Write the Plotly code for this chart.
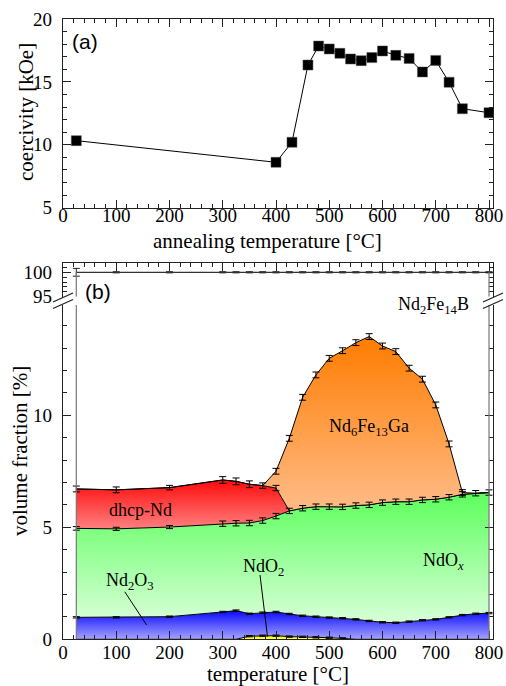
import plotly.graph_objects as go
import numpy as np

# ---------------- data: panel (a) ----------------
T_a = [25, 400, 430, 460, 480, 500, 520, 540, 560, 580, 600, 625, 650, 675, 700, 725, 750, 800]
coercivity = [10.33, 8.61, 10.20, 16.34, 17.85, 17.62, 17.27, 16.82, 16.69, 16.93,
              17.46, 17.11, 16.87, 15.79, 16.71, 14.97, 12.87, 12.55]

# ---------------- data: panel (b) (volume fractions, %) ----------------
T_b = [25, 100, 200, 300, 325, 350, 375, 400, 425, 450, 475, 500, 525, 550, 575,
       600, 625, 650, 675, 700, 725, 750, 775, 800]
NdO2 = [0, 0, 0, 0, 0, 0.14, 0.16, 0.16, 0.12, 0.11, 0.09, 0.07, 0.04, 0,
        0, 0, 0, 0, 0, 0, 0, 0, 0, 0]
Nd2O3 = [0.98, 0.98, 1.01, 1.22, 1.28, 1.00, 1.03, 1.06, 1.01, 0.94, 0.92, 0.90, 0.90, 0.89,
         0.82, 0.76, 0.74, 0.79, 0.85, 0.89, 0.98, 1.08, 1.14, 1.17]
NdOx = [3.97, 3.95, 4.00, 3.94, 3.90, 4.05, 4.11, 4.28, 4.60, 4.80, 4.91, 4.95, 4.97, 5.08,
        5.18, 5.34, 5.40, 5.35, 5.37, 5.36, 5.36, 5.39, 5.38, 5.38]
dhcpNd = [1.76, 1.74, 1.76, 1.95, 1.87, 1.73, 1.56, 1.25, 0, 0, 0, 0, 0, 0,
          0, 0, 0, 0, 0, 0, 0, 0, 0, 0]
Nd6Fe13Ga = [0, 0, 0, 0, 0, 0, 0, 0.75, 3.24, 4.95, 5.88, 6.62, 6.97, 7.27,
             7.51, 6.99, 6.70, 5.96, 5.39, 4.21, 2.38, 0.08, 0, 0]
Nd2Fe14B = [round(100 - a - b - c - d - e, 2) for a, b, c, d, e in zip(NdO2, Nd2O3, NdOx, dhcpNd, Nd6Fe13Ga)]

# error bars (absolute, %)
err_NdO2 = [None]*5 + [0.03]*8 + [None]*11
err_Nd2O3 = [0.03]*24
err_NdOx = [0.08, 0.07, 0.07] + [0.12]*21
err_dhcp = [0.13, 0.13, 0.10, 0.15, 0.15, 0.15, 0.12, 0.12] + [None]*16
err_Ga = [None]*7 + [0.13]*15 + [None]*2
err_total = [0.8] + [0.12]*23

# ---------------- geometry helpers (pixels -> paper) ----------------
W, H = 506, 686
def px(x):
    return x / W
def py(y):
    return 1 - y / H

XDOM = [px(63), px(493)]
XRANGE = [0, 807.5]
FONT_SERIF = "Liberation Serif"
FONT_SANS = "Liberation Sans"
AXC = "#222222"

fig = go.Figure()

# ---------- panel (a) ----------
fig.add_trace(go.Scatter(
    x=T_a, y=coercivity, mode="lines+markers",
    line=dict(color="black", width=1),
    marker=dict(symbol="square", size=10, color="black", line=dict(color="#555", width=0.5)),
    xaxis="x", yaxis="y", showlegend=False, hoverinfo="skip"))

# ---------- panel (b) stacked areas ----------
layers = [
    ("NdO2", NdO2, err_NdO2, ["#ffff50", "#ffff00"]),
    ("Nd2O3", Nd2O3, err_Nd2O3, ["#a4a4ff", "#0a0aff"]),
    ("NdOx", NdOx, err_NdOx, ["#d8ffd8", "#5cff5c"]),
    ("dhcp", dhcpNd, err_dhcp, ["#ff8080", "#ff0a0a"]),
    ("Ga", Nd6Fe13Ga, err_Ga, ["#ffbc88", "#ff7c00"]),
]

base = np.zeros(len(T_b))
fig.add_trace(go.Scatter(x=T_b, y=list(base), mode="lines", line=dict(width=0, color="black"),
                         xaxis="x2", yaxis="y2", showlegend=False, hoverinfo="skip"))
cum = base.copy()
err_traces = []
for name, vals, errs, cols in layers:
    lower = cum.copy()
    cum = cum + np.array(vals)
    mask = np.array(vals) > 0
    start = float(lower[mask].min())
    stop = float(cum[mask].max())
    fig.add_trace(go.Scatter(
        x=T_b, y=list(cum), mode="lines",
        line=dict(color="black", width=1),
        fill="tonexty", fillcolor=cols[1],
        fillgradient=dict(type="vertical", colorscale=[[0, cols[0]], [1, cols[1]]],
                          start=start, stop=stop),
        xaxis="x2", yaxis="y2", showlegend=False, hoverinfo="skip"))
    ex = [t for t, e in zip(T_b, errs) if e is not None]
    ey = [c for c, e in zip(cum, errs) if e is not None]
    ee = [e for e in errs if e is not None]
    err_traces.append(go.Scatter(
        x=ex, y=ey, mode="markers", marker=dict(size=1, color="rgba(0,0,0,0)"),
        error_y=dict(type="data", array=ee, symmetric=True, color="black", thickness=1, width=3.5),
        xaxis="x2", yaxis="y2", showlegend=False, hoverinfo="skip"))
for tr in err_traces:
    fig.add_trace(tr)

total = [round(c + r, 2) for c, r in zip(cum, Nd2Fe14B)]
fig.add_trace(go.Scatter(
    x=T_b, y=total, mode="lines+markers", line=dict(color="#333", width=1.2),
    marker=dict(size=1, color="rgba(0,0,0,0)"),
    error_y=dict(type="data", array=err_total, symmetric=True, color="#222", thickness=1, width=3.5),
    xaxis="x3", yaxis="y3", showlegend=False, hoverinfo="skip"))

# ---------- axes ----------
tickfont = dict(family=FONT_SERIF, size=19, color="black")
common = dict(showline=True, linecolor=AXC, linewidth=1.3, ticks="inside", ticklen=8,
              tickcolor=AXC, tickwidth=1, showgrid=False, zeroline=False, tickfont=tickfont,
              automargin=False)

fig.update_layout(
    width=W, height=H, margin=dict(l=0, r=0, t=0, b=0, autoexpand=False),
    paper_bgcolor="white", plot_bgcolor="white",
    xaxis=dict(domain=XDOM, range=XRANGE, anchor="y", dtick=100, tick0=0, mirror="ticks",
               minor=dict(dtick=20, ticklen=4, ticks="inside", tickcolor=AXC),
               ticklabelstandoff=-10, **common),
    yaxis=dict(domain=[py(207.7), py(19)], range=[5, 20], anchor="x", dtick=5, tick0=0,
               mirror="ticks", minor=dict(dtick=1, ticklen=4, ticks="inside", tickcolor=AXC),
               ticklabelstandoff=6, **common),
    xaxis2=dict(domain=XDOM, range=XRANGE, anchor="y2", dtick=100, tick0=0, mirror=False,
                minor=dict(dtick=20, ticklen=4, ticks="inside", tickcolor=AXC),
                ticklabelstandoff=-4, **common),
    yaxis2=dict(domain=[py(639.3), py(305)], range=[0, 14.92], anchor="x2", dtick=5, tick0=0,
                mirror="ticks", minor=dict(dtick=1, ticklen=4, ticks="inside", tickcolor=AXC),
                ticklabelstandoff=6, **common),
    xaxis3=dict(domain=XDOM, range=XRANGE, anchor="y3", side="top", dtick=100, tick0=0,
                showticklabels=False, mirror=False, matches="x2",
                minor=dict(dtick=20, ticklen=4, ticks="inside", tickcolor=AXC), **common),
    yaxis3=dict(domain=[py(296.7), py(263.3)], range=[95, 101.84], anchor="x3",
                tickvals=[95, 100], mirror="ticks",
                minor=dict(dtick=1, ticklen=4, ticks="inside", tickcolor=AXC),
                ticklabelstandoff=6, **common),
)

# ---------- shapes: edge lines, break marks, pointer lines ----------
shapes = []
for xv in (T_b[0], T_b[-1]):
    shapes.append(dict(type="line", xref="x2", yref="y2", x0=xv, x1=xv, y0=0, y1=14.92,
                       line=dict(color="#777", width=1.2)))
    shapes.append(dict(type="line", xref="x3", yref="y3", x0=xv, x1=xv, y0=95, y1=100,
                       line=dict(color="#777", width=1.2)))
for xc in (63, 493):
    for yc in (297.5, 304):
        shapes.append(dict(type="line", xref="paper", yref="paper",
                           x0=px(xc - 10), y0=py(yc + 4.5), x1=px(xc + 10), y1=py(yc - 4.5),
                           line=dict(color=AXC, width=1.3)))
shapes.append(dict(type="line", xref="x2", yref="y2", x0=116, y0=2.12, x1=157, y1=0.64,
                   line=dict(color="black", width=1)))
shapes.append(dict(type="line", xref="x2", yref="y2", x0=370, y0=2.87, x1=384, y1=0.12,
                   line=dict(color="black", width=1)))
fig.update_layout(shapes=shapes)

# ---------- text ----------
def ann(text, x, y, size=18, family=FONT_SERIF, angle=0):
    fig.add_annotation(text=text, x=px(x), y=py(y), xref="paper", yref="paper",
                       showarrow=False, xanchor="center", yanchor="middle", textangle=angle,
                       font=dict(family=family, size=size, color="black"))

ann("(a)", 85, 41, size=21, family=FONT_SANS)
ann("(b)", 98, 291.5, size=21, family=FONT_SANS)
ann("coercivity [kOe]", 26, 112, size=21, angle=-90)
ann("annealing temperature [°C]", 267.5, 241, size=21)
ann("volume fraction [%]", 20, 451, size=21, angle=-90)
ann("temperature [°C]", 278, 674, size=21)
ann("Nd<sub>2</sub>Fe<sub>14</sub>B", 433, 305, size=18)
ann("Nd<sub>6</sub>Fe<sub>13</sub>Ga", 369, 427, size=18)
ann("dhcp-Nd", 140, 510, size=18)
ann("NdO<sub><i>x</i></sub>", 443, 561, size=18)
ann("NdO<sub>2</sub>", 263, 567, size=18)
ann("Nd<sub>2</sub>O<sub>3</sub>", 130, 581, size=18)

fig.write_html("out.html", config={"displayModeBar": False},
               post_script="document.body.style.margin='0';document.body.style.overflow='hidden';")
